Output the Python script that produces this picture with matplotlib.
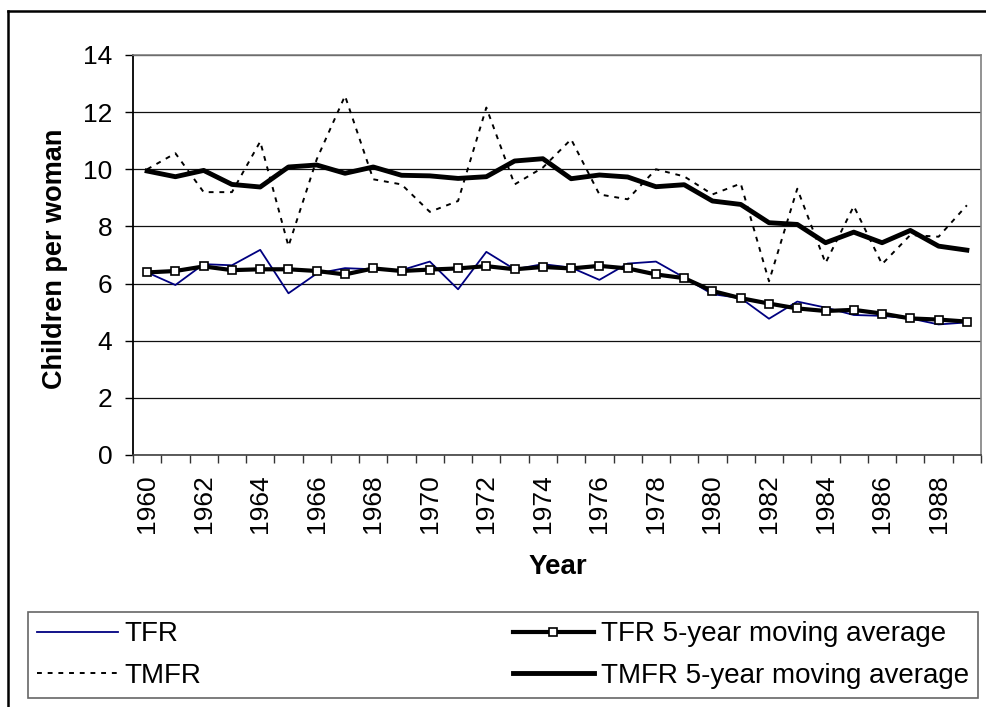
import numpy as np
import matplotlib
matplotlib.use("Agg")
import matplotlib.pyplot as plt
from matplotlib.lines import Line2D

plt.rcParams['font.family'] = ['Liberation Sans', 'DejaVu Sans']

years = list(range(1960, 1990))
tfr = [6.39, 5.95, 6.68, 6.64, 7.18, 5.66, 6.35, 6.54, 6.50, 6.47,
       6.77, 5.80, 7.11, 6.50, 6.68, 6.56, 6.13, 6.70, 6.77, 6.21,
       5.63, 5.49, 4.77, 5.37, 5.16, 4.90, 4.87, 4.78, 4.57, 4.64]
tmfr = [10.00, 10.56, 9.20, 9.20, 10.97, 7.31, 10.35, 12.57, 9.65, 9.47,
        8.51, 8.89, 12.16, 9.47, 10.06, 11.05, 9.12, 8.95, 10.00, 9.75,
        9.12, 9.50, 6.08, 9.32, 6.72, 8.71, 6.68, 7.70, 7.64, 8.74]
tfr_ma = [6.39, 6.44, 6.60, 6.47, 6.50, 6.50, 6.44, 6.32, 6.53, 6.44,
          6.49, 6.53, 6.61, 6.50, 6.58, 6.53, 6.62, 6.53, 6.32, 6.19,
          5.74, 5.49, 5.30, 5.13, 5.04, 5.08, 4.95, 4.78, 4.74, 4.67]
tmfr_ma = [9.94, 9.74, 9.96, 9.47, 9.38, 10.08, 10.15, 9.86, 10.08, 9.79,
           9.77, 9.68, 9.74, 10.29, 10.37, 9.67, 9.80, 9.73, 9.39, 9.46,
           8.89, 8.77, 8.13, 8.07, 7.43, 7.80, 7.43, 7.86, 7.31, 7.17]
labels = ["TFR", "TMFR", "TFR 5-year moving average", "TMFR 5-year moving average"]
y_ticks = [0, 2, 4, 6, 8, 10, 12, 14]

W, H = 986, 707
fig = plt.figure(figsize=(W / 100, H / 100), dpi=100)
ax = fig.add_axes([133 / W, 1 - 455 / H, 848 / W, 400 / H])

x = np.arange(len(years))
l1, = ax.plot(x, tfr, color='#000080', lw=1.3, zorder=3)
l2, = ax.plot(x, tmfr, color='black', lw=1.4, linestyle=(0, (2.5, 3.0)), zorder=3)
l3, = ax.plot(x, tfr_ma, color='black', lw=3.0, marker='s', markersize=5.5,
              markerfacecolor='white', markeredgecolor='black', markeredgewidth=1.2, zorder=4)
l4, = ax.plot(x, tmfr_ma, color='black', lw=3.5, zorder=4)

ax.set_xlim(-0.5, len(years) - 0.5)
ax.set_ylim(0, 14)
ax.set_yticks(y_ticks)
ax.set_yticklabels([str(v) for v in y_ticks])
ax.yaxis.grid(True, color='#101010', lw=0.9)
ax.set_axisbelow(True)

ax.set_xticks(np.arange(-0.5, len(years), 1.0))
ax.set_xticklabels([])
ax.set_xticks(x[::2], minor=True)
ax.set_xticklabels([str(y) for y in years[::2]], minor=True, rotation=90)
ax.tick_params(axis='x', which='major', length=6, width=1, color='#333333', direction='out')
ax.tick_params(axis='x', which='minor', length=0, pad=14, labelsize=19)
ax.tick_params(axis='y', length=6, width=1, direction='out', pad=9, labelsize=19)

for s in ['top', 'right']:
    ax.spines[s].set_color('#808080')
    ax.spines[s].set_linewidth(1.2)
ax.spines['left'].set_color('black')
ax.spines['left'].set_linewidth(1.3)
ax.spines['bottom'].set_color('#404040')
ax.spines['bottom'].set_linewidth(1.2)

fig.text(55 / W, 1 - 259 / H, "Children per woman", rotation=90, ha='center', va='center',
         fontsize=19.5, fontweight='bold')
fig.text(558 / W, 1 - 567 / H, "Year", ha='center', va='center', fontsize=20, fontweight='bold')

# outer chart-area border (top and left visible)
fig.add_artist(Line2D([7.5 / W, 7.5 / W], [0, 1 - 11 / H], transform=fig.transFigure,
                      color='black', lw=1.8))
fig.add_artist(Line2D([7.5 / W, 1.0], [1 - 11 / H, 1 - 11 / H], transform=fig.transFigure,
                      color='black', lw=1.8))

leg = fig.legend([l1, l2, l3, l4], labels, ncol=2, loc='upper left',
                 bbox_to_anchor=(28 / W, 1 - 613 / H, 950 / W, 0.001), mode='expand',
                 fontsize=20, frameon=True, fancybox=False, borderaxespad=0,
                 handlelength=2.9, handletextpad=0.25, labelspacing=0.55, borderpad=0.33)
leg.get_frame().set_edgecolor('#404040')
leg.get_frame().set_linewidth(1.2)

fig.savefig("out.png", dpi=100)
